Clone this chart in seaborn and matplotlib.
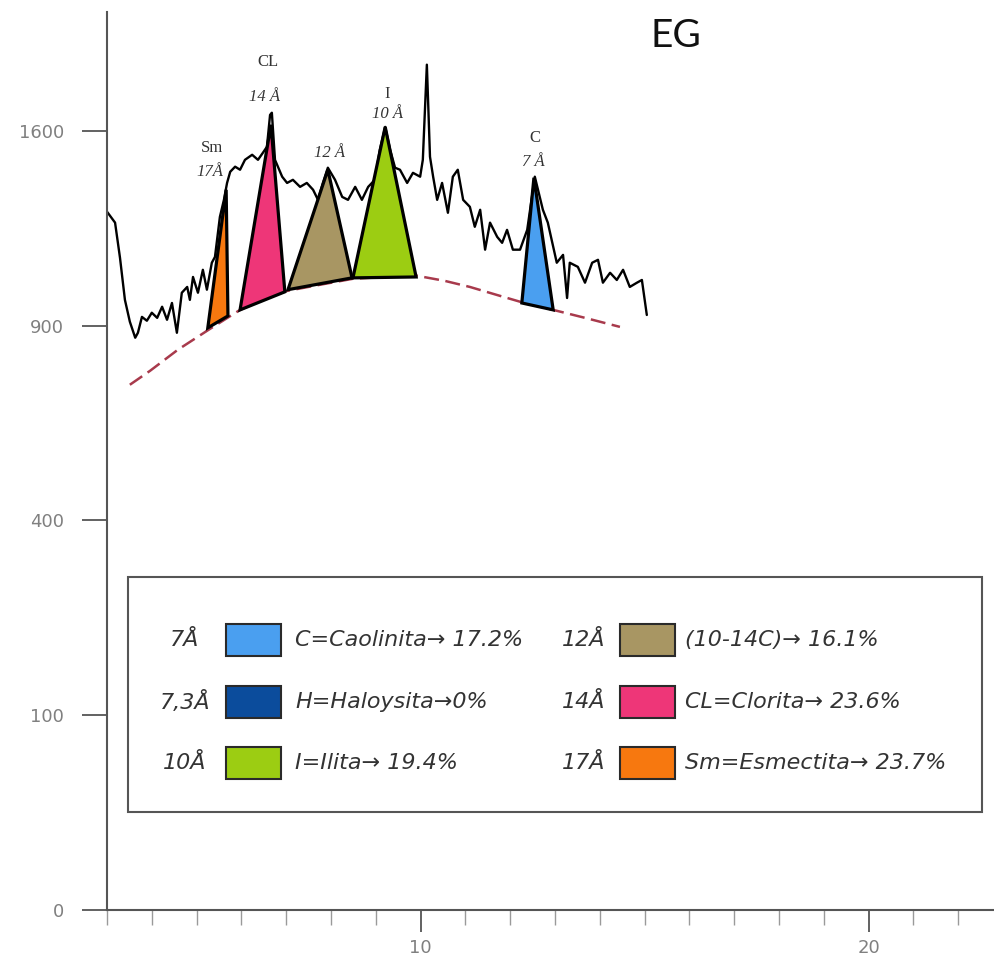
import numpy as np
import matplotlib
matplotlib.use("Agg")
import matplotlib.pyplot as plt
import seaborn as sns
from matplotlib.patches import Rectangle
from matplotlib.ticker import MultipleLocator, FixedLocator

# diffractogram trace (2 theta, counts)
two_theta = [3.00, 3.18, 3.29, 3.40, 3.51, 3.63, 3.69, 3.78, 3.89, 4.00,
             4.12, 4.23, 4.34, 4.45, 4.56, 4.67, 4.79, 4.85, 4.92, 5.03,
             5.14, 5.23, 5.34, 5.41, 5.52, 5.61, 5.68, 5.75, 5.86, 5.97,
             6.08, 6.24, 6.37, 6.48, 6.57, 6.64, 6.68, 6.75, 6.91, 7.02,
             7.15, 7.31, 7.46, 7.60, 7.71, 7.82, 7.93, 8.09, 8.25, 8.38,
             8.54, 8.69, 8.83, 8.98, 9.09, 9.21, 9.32, 9.43, 9.54, 9.70,
             9.83, 9.99, 10.05, 10.14, 10.21, 10.28, 10.37, 10.48, 10.61, 10.72,
             10.83, 10.95, 11.10, 11.21, 11.33, 11.44, 11.55, 11.71, 11.82, 11.93,
             12.06, 12.22, 12.38, 12.55, 12.73, 12.84, 13.04, 13.18, 13.27, 13.33,
             13.51, 13.67, 13.83, 13.96, 14.07, 14.23, 14.38, 14.52, 14.67, 14.83,
             14.94, 15.05]
counts = [1285, 1245, 1121, 981, 912, 863, 878, 927, 915, 940,
          924, 959, 918, 971, 878, 1004, 1023, 981, 1056, 1004,
          1080, 1014, 1104, 1124, 1266, 1329, 1393, 1436, 1456, 1444,
          1483, 1503, 1483, 1511, 1535, 1666, 1675, 1483, 1417, 1393,
          1405, 1378, 1393, 1367, 1329, 1393, 1452, 1405, 1340, 1329,
          1378, 1329, 1378, 1405, 1523, 1616, 1523, 1452, 1444, 1393,
          1432, 1417, 1483, 1883, 1495, 1417, 1329, 1393, 1281, 1417,
          1444, 1329, 1303, 1230, 1292, 1149, 1245, 1194, 1173, 1219,
          1149, 1149, 1219, 1417, 1292, 1245, 1104, 1131, 987, 1104,
          1090, 1037, 1104, 1114, 1037, 1070, 1046, 1080, 1023, 1037,
          1046, 933]

# background line
baseline_x = [3.51, 3.96, 4.58, 5.30, 5.97, 6.64, 7.02, 7.75, 8.49, 9.21,
              9.92, 10.54, 11.10, 11.77, 12.22, 12.96, 13.67, 14.45]
baseline_y = [727, 766, 827, 890, 949, 991, 1010, 1030, 1050, 1056,
              1060, 1043, 1023, 994, 975, 949, 924, 896]

# peak triangles
peak_names = ["Sm", "CL", "", "I", "C"]
peak_d = ["17Å", "14 Å", "12 Å", "10 Å", "7 Å"]
peak_left_x = [5.25, 5.97, 7.04, 8.49, 12.26]
peak_left_y = [893, 949, 1014, 1053, 971]
peak_top_x = [5.66, 6.66, 7.93, 9.21, 12.53]
peak_top_y = [1367, 1625, 1444, 1616, 1413]
peak_right_x = [5.70, 6.97, 8.47, 9.90, 12.96]
peak_right_y = [930, 1007, 1053, 1056, 949]
peak_colors = ["#f7780f", "#ee3678", "#a89663", "#9ccd12", "#4a9ff0"]

# legend
legend_d = ["7Å", "7,3Å", "10Å", "12Å", "14Å", "17Å"]
legend_text = ["C=Caolinita→ 17.2%", "H=Haloysita→0%", "I=Ilita→ 19.4%",
               "(10-14C)→ 16.1%", "CL=Clorita→ 23.6%", "Sm=Esmectita→ 23.7%"]
legend_colors = ["#4a9ff0", "#0b4c9c", "#9ccd12", "#a89663", "#ee3678", "#f7780f"]

y_ticks = [0, 100, 400, 900, 1600]
x_ticks = [10, 20]

W, H = 994, 959

sns.set_theme(style="ticks")
plt.rcParams["font.family"] = ["DejaVu Sans"]

fig = plt.figure(figsize=(W / 100, H / 100), dpi=100)
ax = fig.add_axes([107 / W, 49 / H, 887 / W, 898 / H])

ax.set_yscale("function", functions=(lambda v: np.sqrt(np.clip(v, 0, None)),
                                     lambda v: np.square(v)))

sns.lineplot(x=two_theta, y=counts, sort=False, estimator=None,
             color="black", lw=1.7, ax=ax, zorder=2)
sns.lineplot(x=baseline_x, y=baseline_y, sort=False, estimator=None,
             color="#a83a4c", lw=1.8, linestyle=(0, (6, 2.6)), ax=ax, zorder=2.5)

for i in range(len(peak_top_x)):
    xs = [peak_left_x[i], peak_top_x[i], peak_right_x[i]]
    ys = [peak_left_y[i], peak_top_y[i], peak_right_y[i]]
    ax.fill(xs, ys, facecolor=peak_colors[i], edgecolor="black", lw=2.3,
            joinstyle="miter", zorder=3)

# label offsets above each apex, in pixels: (d label), (name label)
label_offsets = [((-16, 18), (-14, 42)), ((-6, 28), (-3, 63)), ((2, 17), None),
                 ((2, 13), (2, 33)), ((-1, 16), (1, 40))]
for i, (d_off, n_off) in enumerate(label_offsets):
    ax.annotate(peak_d[i], (peak_top_x[i], peak_top_y[i]), xytext=d_off,
                textcoords="offset pixels", ha="center", va="center",
                fontsize=12, style="italic", family="Liberation Serif",
                color="#333333", zorder=4)
    if n_off is not None:
        ax.annotate(peak_names[i], (peak_top_x[i], peak_top_y[i]), xytext=n_off,
                    textcoords="offset pixels", ha="center", va="center",
                    fontsize=12, family="Liberation Serif", color="#333333",
                    zorder=4)

ax.set_xlim(3, 22.8)
ax.set_ylim(0, 2125)
ax.yaxis.set_major_locator(FixedLocator(y_ticks))
ax.yaxis.set_minor_locator(FixedLocator([]))
ax.set_yticklabels([str(t) for t in y_ticks])
ax.xaxis.set_major_locator(FixedLocator(x_ticks))
ax.xaxis.set_minor_locator(MultipleLocator(1))
ax.set_xticklabels([str(t) for t in x_ticks])

sns.despine(ax=ax)
for side in ("left", "bottom"):
    ax.spines[side].set_color("#555555")
    ax.spines[side].set_linewidth(1.5)
ax.tick_params(axis="y", which="major", length=18, width=1.3, color="#555555",
               pad=13, labelsize=13, labelcolor="#808080")
ax.tick_params(axis="x", which="major", length=16, width=1.3, color="#555555",
               pad=5, labelsize=13, labelcolor="#808080")
ax.tick_params(axis="x", which="minor", length=11, width=1.0, color="#9a9a9a")
ax.set_xlabel("")
ax.set_ylabel("")


def fx(px):
    return px / W


def fy(py):
    return 1 - py / H


fig.text(fx(650), fy(36), "EG", fontsize=28, ha="left", va="center",
         family="Lato", color="#111111")

fig.add_artist(Rectangle((fx(128), fy(812)), (982 - 128) / W, (812 - 577) / H,
                         transform=fig.transFigure, fill=False,
                         edgecolor="#555555", lw=1.5, zorder=5))

row_y = [640, 702, 763]
col_label_cx = [185, 584]
col_patch_x = [226, 620]
col_text_x = [295, 685]
for i in range(len(legend_d)):
    c, r = divmod(i, 3)
    y = row_y[r]
    fig.text(fx(col_label_cx[c]), fy(y), legend_d[i], ha="center", va="center",
             fontsize=16, style="italic", color="#333333", family="DejaVu Sans")
    fig.add_artist(Rectangle((fx(col_patch_x[c]), fy(y + 16)), 55 / W, 32 / H,
                             transform=fig.transFigure, facecolor=legend_colors[i],
                             edgecolor="#2a2a2a", lw=1.5, zorder=5))
    fig.text(fx(col_text_x[c]), fy(y), legend_text[i], ha="left", va="center",
             fontsize=16, style="italic", color="#333333", family="DejaVu Sans")

fig.savefig("out.png", dpi=100)
